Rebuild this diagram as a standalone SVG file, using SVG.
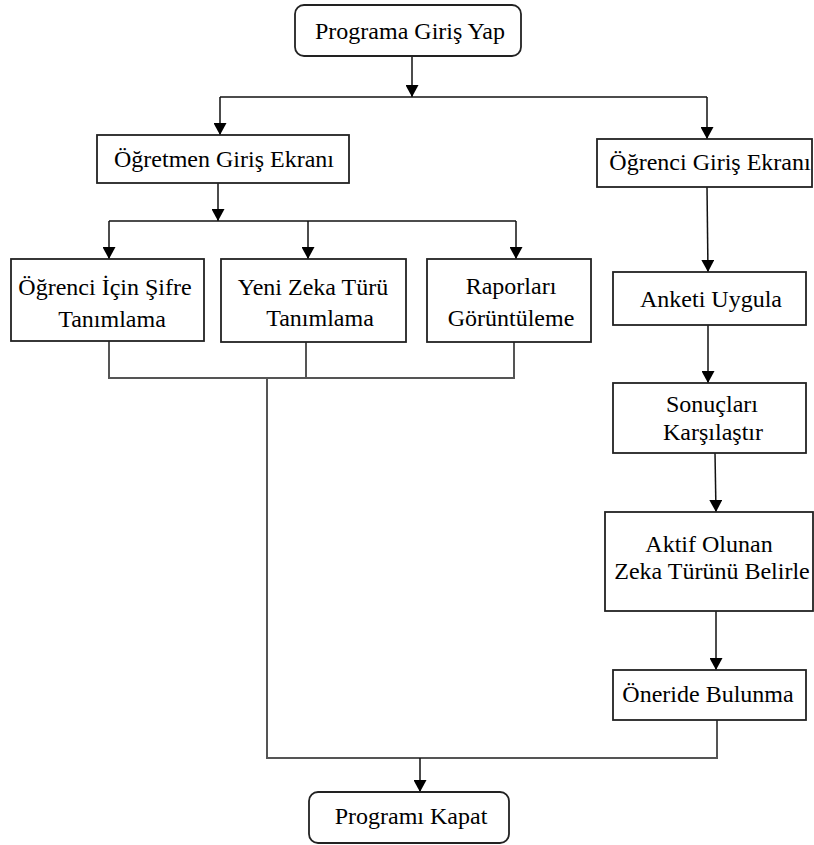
<svg xmlns="http://www.w3.org/2000/svg" width="814" height="845" viewBox="0 0 814 845">
<style>
.box{fill:#fff;stroke:#222;stroke-width:1.8}
.t{font-family:'Liberation Serif','DejaVu Serif',serif;font-size:24px;fill:#000;text-anchor:middle}
.arr{fill:none;stroke:#111;stroke-width:1.5;marker-end:url(#ah)}
.ln{fill:none;stroke:#555;stroke-width:2}
.lk{fill:none;stroke:#111;stroke-width:1.5}
</style>
<defs>
<marker id="ah" markerUnits="userSpaceOnUse" markerWidth="13" markerHeight="13" refX="12" refY="6.5" orient="auto">
<path d="M0,0 L12,6.5 L0,13 z" fill="#000"/>
</marker>
</defs>
<rect width="814" height="845" fill="#fff"/>
<g id="connectors">
<path class="arr" d="M412,56 V97"/>
<path class="lk" d="M220,97 H707"/>
<path class="arr" d="M220,97 V135"/>
<path class="arr" d="M707,97 V139"/>
<path class="arr" d="M218,183 V221"/>
<path class="lk" d="M109,221 H516"/>
<path class="arr" d="M109,221 V259"/>
<path class="arr" d="M308,221 V259"/>
<path class="arr" d="M516,221 V259"/>
<path class="ln" d="M109,341 V378 H514 V342"/>
<path class="ln" d="M306,342 V378"/>
<path class="ln" d="M267,378 V758 H717 V720"/>
<path class="arr" d="M420,758 V792"/>
<path class="arr" d="M707,187 L708,272"/>
<path class="arr" d="M708,325 V383"/>
<path class="arr" d="M715,453 L716,512"/>
<path class="arr" d="M716,611 V670"/>
</g>
<g id="n-programa-giris">
<rect class="box" x="295" y="5" width="226" height="51" rx="9"/>
<text class="t" x="410" y="39" font-family="Liberation Serif, serif">Programa Giriş Yap</text>
</g>
<g id="n-ogretmen-giris">
<rect class="box" x="97" y="135" width="252" height="48"/>
<text class="t" x="224" y="167">Öğretmen Giriş Ekranı</text>
</g>
<g id="n-ogrenci-giris">
<rect class="box" x="597" y="139" width="215" height="48"/>
<text class="t" x="710" y="170">Öğrenci Giriş Ekranı</text>
</g>
<g id="n-sifre">
<rect class="box" x="11" y="259" width="193" height="82"/>
<text class="t" x="105" y="295">Öğrenci İçin Şifre</text>
<text class="t" x="112" y="327">Tanımlama</text>
</g>
<g id="n-yeni-zeka">
<rect class="box" x="221" y="259" width="185" height="83"/>
<text class="t" x="313" y="295">Yeni Zeka Türü</text>
<text class="t" x="320" y="326">Tanımlama</text>
</g>
<g id="n-raporlar">
<rect class="box" x="427" y="259" width="164" height="83"/>
<text class="t" x="511" y="294">Raporları</text>
<text class="t" x="511" y="326">Görüntüleme</text>
</g>
<g id="n-anket">
<rect class="box" x="613" y="272" width="193" height="53"/>
<text class="t" x="711" y="307">Anketi Uygula</text>
</g>
<g id="n-sonuclar">
<rect class="box" x="613" y="383" width="193" height="70"/>
<text class="t" x="712" y="412">Sonuçları</text>
<text class="t" x="713" y="440">Karşılaştır</text>
</g>
<g id="n-aktif">
<rect class="box" x="605" y="512" width="208" height="99"/>
<text class="t" x="709" y="552">Aktif Olunan</text>
<text class="t" x="712" y="579">Zeka Türünü Belirle</text>
</g>
<g id="n-oneri">
<rect class="box" x="613" y="670" width="193" height="50"/>
<text class="t" x="708" y="702">Öneride Bulunma</text>
</g>
<g id="n-kapat">
<rect class="box" x="309" y="792" width="200" height="51" rx="9"/>
<text class="t" x="411" y="824">Programı Kapat</text>
</g>
</svg>
